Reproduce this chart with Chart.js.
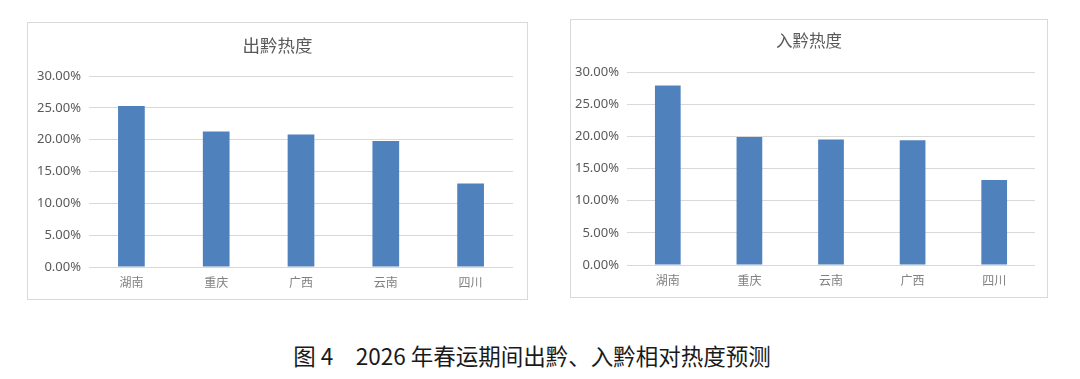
<!DOCTYPE html>
<html>
<head>
<meta charset="utf-8">
<script src="https://cdn.jsdelivr.net/npm/chart.js@4"></script>
<style>
  html, body { margin: 0; padding: 0; background: #fff; }
  body { width: 1080px; height: 379px; position: relative; overflow: hidden; }
  .box { position: absolute; border: 1px solid #d9d9d9; background: #fff; }
  .box canvas { display: block; }
  #caption { position: absolute; left: 0; width: 1064px; top: 341px; line-height: 28px;
    text-align: center; font-family: "Noto Sans CJK SC", sans-serif; font-size: 22.5px;
    font-weight: 400; color: #1a1a1a; white-space: pre; }
</style>
</head>
<body>
<div class="box" style="left:27px; top:22px;"><canvas id="c1" width="499" height="276"></canvas></div>
<div class="box" style="left:570px; top:19px;"><canvas id="c2" width="476" height="277"></canvas></div>
<div id="caption">图 4　2026 年春运期间出黔、入黔相对热度预测</div>
<script>
const outCategories = ['湖南', '重庆', '广西', '云南', '四川'];
const outValues = [25.3, 21.3, 20.8, 19.8, 13.1];
const inCategories = ['湖南', '重庆', '云南', '广西', '四川'];
const inValues = [27.9, 19.9, 19.5, 19.4, 13.2];
const yTicks = [0, 5, 10, 15, 20, 25, 30];
const titles = ['出黔热度', '入黔热度'];

function makeChart(id, labels, values, title, cfg) {
  new Chart(document.getElementById(id), {
    type: 'bar',
    data: {
      labels: labels,
      datasets: [{ data: values, backgroundColor: '#4f81bd', borderWidth: 0,
        barPercentage: 0.315, categoryPercentage: 1.0 }]
    },
    options: {
      responsive: false,
      animation: false,
      devicePixelRatio: 1,
      layout: { padding: 0 },
      plugins: {
        legend: { display: false },
        tooltip: { enabled: false },
        title: {
          display: true, text: title, color: '#595959',
          font: { family: '"Noto Sans CJK SC", sans-serif', size: cfg.titleSize, weight: 'normal' },
          padding: { top: cfg.titleTop, bottom: cfg.titleBottom }
        }
      },
      scales: {
        x: {
          grid: { display: false, drawTicks: false },
          border: { display: false },
          ticks: { color: '#808080', padding: 8,
            font: { family: '"Noto Sans CJK SC", sans-serif', size: 12 } },
          afterFit: s => { s.height = 32; }
        },
        y: {
          min: 0, max: 30,
          afterBuildTicks: s => { s.ticks = yTicks.map(v => ({ value: v })); },
          grid: { color: '#d9d9d9', lineWidth: 1, drawTicks: false },
          border: { display: false },
          ticks: { color: '#595959', padding: 8,
            font: { family: '"Noto Sans", sans-serif', size: 13 },
            callback: v => v.toFixed(2) + '%' },
          afterFit: s => { s.width = cfg.yWidth; }
        },
        yr: {
          type: 'linear', position: 'right', display: true,
          grid: { display: false, drawTicks: false },
          border: { display: false },
          ticks: { display: false },
          afterFit: s => { s.width = cfg.right; }
        }
      }
    }
  });
}

makeChart('c1', outCategories, outValues, titles[0],
  { right: 14, yWidth: 61, titleSize: 17.5, titleTop: 11.5, titleBottom: 20.5 });
makeChart('c2', inCategories, inValues, titles[1],
  { right: 12, yWidth: 56, titleSize: 16.5, titleTop: 11.1, titleBottom: 21.1 });
</script>
</body>
</html>
